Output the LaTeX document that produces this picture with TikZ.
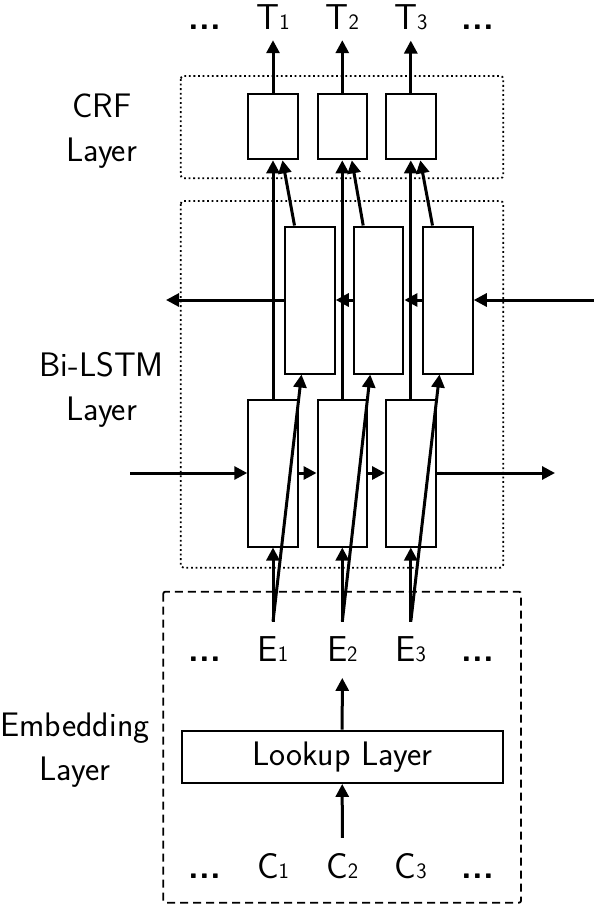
\documentclass[tikz,border=0pt]{standalone}
\usetikzlibrary{arrows.meta}
\newcommand{\lsub}[1]{{\fontsize{22}{22}\selectfont #1}}
\begin{document}
\begin{tikzpicture}[x=1pt,y=-1pt,
  box/.style={draw,line width=2pt,minimum width=49.5pt,inner sep=0pt},
  crfbox/.style={box,minimum height=65pt},
  lstmbox/.style={box,minimum height=147pt},
  arr/.style={line width=3pt,-{Triangle[length=13pt,width=13pt]}},
  big/.style={font=\sffamily\fontsize{36}{40}\selectfont},
  tlab/.style={big,anchor=base,inner xsep=0pt,inner ysep=11pt},
  elab/.style={big,anchor=base,inner sep=0pt,text height=40pt,text depth=16pt},
  clab/.style={big,anchor=base,inner sep=0pt,text height=40pt,text depth=0pt},
  dots/.style={font=\sffamily\bfseries\fontsize{35}{40}\selectfont,anchor=base,inner sep=0pt},
  layerlab/.style={font=\sffamily\fontsize{34}{44}\selectfont,align=center,anchor=north,inner sep=0pt},
  dotframe/.style={line width=1.8pt,dash pattern=on 1.8pt off 2.8pt,rounded corners=3pt},
  dashframe/.style={line width=1.8pt,dash pattern=on 8pt off 5pt,rounded corners=2pt}
]
\useasboundingbox (0,0) rectangle (594,906);

% frames
\draw[dotframe] (180.7,76) rectangle (503.3,178.3);
\draw[dotframe] (180.7,201) rectangle (503.3,567.7);
\draw[dashframe] (163.3,591.7) rectangle (521,902.7);

% layer labels
\node[layerlab] (lcrf) at (101.7,94) {CRF\\Layer};
\node[layerlab] (llstm) at (101.7,352) {Bi-LSTM\\Layer};
\node[layerlab] (lemb) at (75,713) {Embedding\\Layer};

% CRF boxes
\node[crfbox] (cr1) at (273,126.8) {};
\node[crfbox] (cr2) at (342.3,126.8) {};
\node[crfbox] (cr3) at (410.8,126.8) {};

% backward LSTM boxes
\node[lstmbox] (b1) at (310,300) {};
\node[lstmbox] (b2) at (378.7,300) {};
\node[lstmbox] (b3) at (448,300) {};

% forward LSTM boxes
\node[lstmbox] (f1) at (273,473) {};
\node[lstmbox] (f2) at (342.3,473) {};
\node[lstmbox] (f3) at (410.8,473) {};

% lookup
\node[draw,line width=2pt,minimum width=321pt,minimum height=52.3pt,inner sep=0pt,
      font=\sffamily\fontsize{34}{40}\selectfont] (look) at (342.2,756.8) {Lookup Layer};

% labels T
\node[tlab] (T1) at (273,29) {T\lsub{1}};
\node[tlab] (T2) at (342.3,29) {T\lsub{2}};
\node[tlab] (T3) at (410.8,29) {T\lsub{3}};
\node[dots] (dT1) at (205,29) {...};
\node[dots] (dT2) at (478,29) {...};

% labels E
\node[elab] (E1) at (273,661.7) {E\lsub{1}};
\node[elab] (E2) at (342.3,661.7) {E\lsub{2}};
\node[elab] (E3) at (410.8,661.7) {E\lsub{3}};
\node[dots] (dE1) at (205,661.7) {...};
\node[dots] (dE2) at (478,661.7) {...};

% labels C
\node[clab] (C1) at (273,878) {C\lsub{1}};
\node[clab] (C2) at (342.3,878) {C\lsub{2}};
\node[clab] (C3) at (410.8,878) {C\lsub{3}};
\node[dots] (dC1) at (205,878) {...};
\node[dots] (dC2) at (478,878) {...};

% free ends
\coordinate (fin) at (130,473);
\coordinate (fout) at (555,473);
\coordinate (bin) at (594,300);
\coordinate (bout) at (166,300);

% embedding arrows
\draw[arr] (C2) -- (look);
\draw[arr] (look) -- (E2);

% CRF outputs and LSTM connections
\foreach \i in {1,2,3}{
  \draw[arr] (cr\i) -- (T\i);
  \draw[arr] (E\i.north) -- (f\i.south);
  \draw[arr] (E\i.north) -- ([xshift=-8.5pt]b\i.south);
  \draw[arr] (f\i.north) -- (cr\i.south);
  \draw[arr] ([xshift=-15.5pt]b\i.north) -- ([xshift=9.5pt]cr\i.south);
}

% forward chain
\draw[arr] (fin) -- (f1.west);
\draw[arr] (f1.east) -- (f2.west);
\draw[arr] (f2.east) -- (f3.west);
\draw[arr] (f3.east) -- (fout);

% backward chain
\draw[arr] (bin) -- (b3.east);
\draw[arr] (b3.west) -- (b2.east);
\draw[arr] (b2.west) -- (b1.east);
\draw[arr] (b1.west) -- (bout);
\end{tikzpicture}
\end{document}
